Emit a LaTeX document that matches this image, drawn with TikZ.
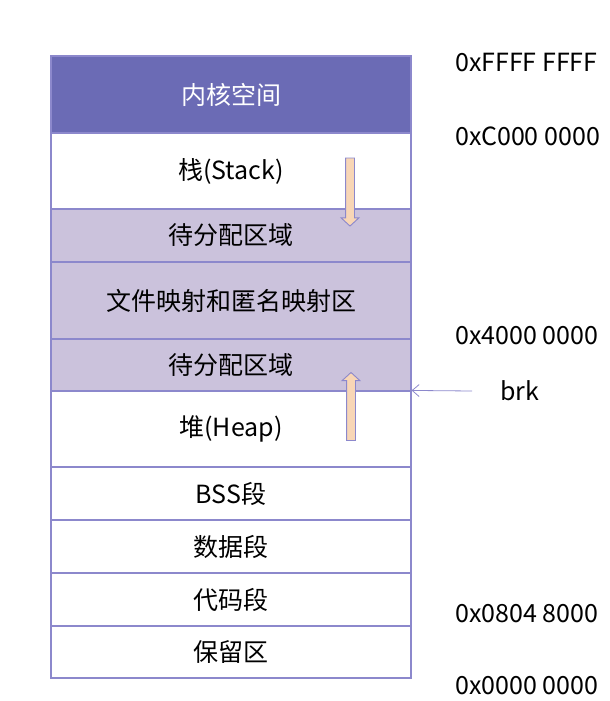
\documentclass[tikz,border=0pt]{standalone}
\usepackage{fontspec}
\setmainfont{Noto Sans CJK SC}
\usetikzlibrary{shapes.arrows,arrows.meta}
\definecolor{kernel}{HTML}{6B6BB5}
\definecolor{freearea}{HTML}{CBC2DC}
\definecolor{edge}{HTML}{8C88CC}
\definecolor{growth}{HTML}{F8D6B6}
\begin{document}
\begin{tikzpicture}[x=1pt,y=-1pt,
  seg/.style={draw=edge, line width=1.1pt, fill=white, minimum width=360pt, font=\fontsize{25}{28}\selectfont},
  addr/.style={anchor=west, inner sep=0pt, font=\fontsize{25}{28}\selectfont},
  growarrow/.style={single arrow, draw=edge, fill=growth, line width=0.9pt,
    minimum height=68pt, inner xsep=0pt, inner ysep=4pt, single arrow head extend=4.5pt,
    single arrow tip angle=95, anchor=center}]
\useasboundingbox (0,0) rectangle (610,701);
% memory segments, top to bottom
\node[seg, fill=kernel, text=white, minimum height=77pt] (kern) at (231,94.5) {内核空间};
\node[seg, minimum height=76pt] (stack) at (231,171) {栈(Stack)};
\node[seg, fill=freearea, minimum height=53pt] (free1) at (231,235.5) {待分配区域};
\node[seg, fill=freearea, minimum height=77pt] (mmap) at (231,300.5) {文件映射和匿名映射区};
\node[seg, fill=freearea, minimum height=52pt] (free2) at (231,365) {待分配区域};
\node[seg, minimum height=76pt] (heap) at (231,429) {堆(Heap)};
\node[seg, minimum height=53pt] (bss) at (231,493.5) {BSS段};
\node[seg, minimum height=53pt] (data) at (231,546.5) {数据段};
\node[seg, minimum height=53pt] (text) at (231,599.5) {代码段};
\node[seg, minimum height=52pt] (resv) at (231,652) {保留区};
% growth directions of stack and heap
\node[growarrow, rotate=-90] (stackgrow) at (350,190) {};
\node[growarrow, rotate=90] (heapgrow) at (351,408.5) {};
% address labels
\node[addr] (a1) at (455,62) {0xFFFF FFFF};
\node[addr] (a2) at (455,136) {0xC000 0000};
\node[addr] (a3) at (455,336) {0x4000 0000};
\node[addr] (a4) at (455,614) {0x0804 8000};
\node[addr] (a5) at (455,686) {0x0000 0000};
\node[addr] (brk) at (500,391) {brk};
\coordinate (brktail) at (472,391);
\draw[edge, line width=0.8pt, -{Straight Barb[length=7pt,width=12pt]}] (brktail) -- (heap.north east);
\end{tikzpicture}
\end{document}
